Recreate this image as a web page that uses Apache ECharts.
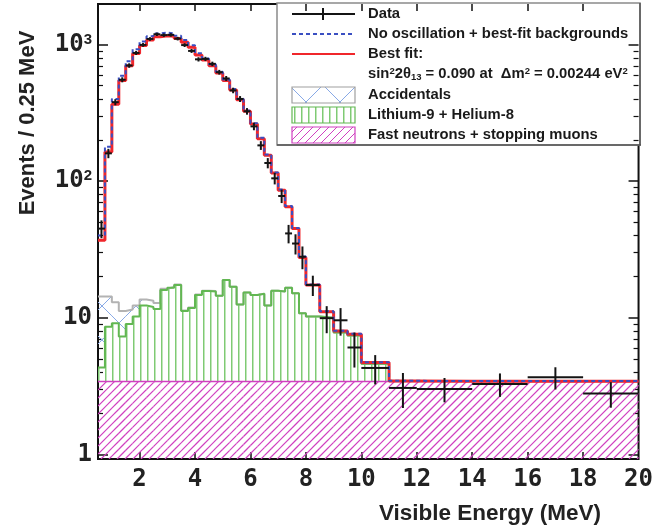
<!DOCTYPE html>
<html><head><meta charset="utf-8">
<script src="https://cdn.jsdelivr.net/npm/echarts@6/dist/echarts.min.js"></script>
<style>html,body{margin:0;padding:0;background:#fff}#c{width:656px;height:529px}</style>
</head><body><div id="c"></div>
<script>
// ---------- data ----------
const binEdges = [0.5,0.75,1.0,1.25,1.5,1.75,2.0,2.25,2.5,2.75,3.0,3.25,3.5,3.75,4.0,4.25,4.5,4.75,5.0,5.25,5.5,5.75,6.0,6.25,6.5,6.75,7.0,7.25,7.5,7.75,8.0,8.5,9.0,9.5,10,11,12,14,16,18,20];
const dataValues = [45,160,379,553,703,869,995,1100,1190,1173,1178,1106,992,899,780,786,723,628,565,462,400,325,252,183,136,105,78,41.5,35,28,17.4,9.95,9.6,6.07,4.3,3.07,3.02,3.28,3.67,2.79];
const dataErrors = [6.7,12.6,19.5,23.5,26.5,29.5,31.5,33,34.5,34.2,34.3,33.3,31.5,30,28,28,26.9,25,23.8,21.5,20,18,15.9,13.5,11.7,10.2,8.8,6.4,5.9,5.3,2.95,2.23,2.19,1.74,1.04,0.88,0.61,0.64,0.68,0.59];
const bestFit = [37,164,366,546,700,860,985,1080,1140,1160,1150,1110,1040,955,840,770,700,620,545,465,395,325,262,205,155,115,86,65,45,27.7,17.4,11.1,8.0,7.6,4.72,3.45,3.44,3.44,3.44,3.44];
const noOscillation = [40,179,399,592,756,925,1054,1150,1208,1224,1208,1160,1082,988,865,792,718,634,556,473,401,330,266,208,157,116,87,66,45.5,28.1,17.55,11.2,8.05,7.65,4.74,3.46,3.45,3.45,3.45,3.45];
const fastNeutrons = [3.42,3.42,3.42,3.42,3.42,3.42,3.42,3.42,3.42,3.42,3.42,3.42,3.42,3.42,3.42,3.42,3.42,3.42,3.42,3.42,3.42,3.42,3.42,3.42,3.42,3.42,3.42,3.42,3.42,3.42,3.42,3.42,3.42,3.42,3.42,3.42,3.42,3.42,3.42,3.42];
const lithiumHelium = [0.92,5.2,5.7,3.9,5.6,6.8,8.9,8.6,8.2,12.6,13.2,14.0,7.8,8.4,11.3,12.3,12.2,11.1,15.5,13.5,9.1,11.9,11.3,11.6,8.9,12.4,12.2,13.2,11.7,7.4,6.8,6.6,4.4,4.0,1.2,0,0,0,0,0];
const accidentals = [10.0,5.7,3.9,3.9,2.5,2.1,1.3,1.3,1.2,0.3,0.2,0.15,0.1,0.1,0.1,0.1,0.1,0,0,0,0,0,0,0,0,0,0,0,0,0,0,0,0,0,0,0,0,0,0,0];
const xTickLabels = [2,4,6,8,10,12,14,16,18,20];
const xTickMarks = [2,4,6,8,10,12,14,16,18];
const yMajorTicks = [1,10,100,1000];
const yMinorTicks = [2,3,4,5,6,7,8,9,20,30,40,50,60,70,80,90,200,300,400,500,600,700,800,900];

// ---------- helpers ----------
const N = dataValues.length;
const yMin = 0.927, yMax = 1982;
const PINK = '#d040c0', GREEN = '#62b752', ACCBLUE = '#88a9e6';
function makePattern(w, h, draw) {
  const c = document.createElement('canvas'); c.width = w; c.height = h;
  draw(c.getContext('2d'), w, h); return c;
}
const pinkHatch = makePattern(8, 8, (g, w, h) => {
  g.strokeStyle = PINK; g.lineWidth = 1; g.beginPath();
  g.moveTo(-1, h + 1); g.lineTo(w + 1, -1);
  g.moveTo(-1, 1); g.lineTo(1, -1);
  g.moveTo(w - 1, h + 1); g.lineTo(w + 1, h - 1);
  g.stroke();
});
const greenHatch = makePattern(7, 4, (g, w, h) => {
  g.fillStyle = '#7fca74'; g.fillRect(0, 0, 1, h);
  g.fillStyle = '#bfe6b8'; g.fillRect(1, 0, 1, h);
});
const accHatch = makePattern(34, 34, (g, w, h) => {
  g.strokeStyle = ACCBLUE; g.lineWidth = 1; g.beginPath();
  g.moveTo(0, 0); g.lineTo(w, h); g.moveTo(0, h); g.lineTo(w, 0); g.stroke();
});

const fnTop = fastNeutrons.slice();
const liTop = fastNeutrons.map((v, i) => v + lithiumHelium[i]);
const accTop = liTop.map((v, i) => v + accidentals[i]);

function binItems(lower, upper) {
  const items = [];
  for (let i = 0; i < N; i++) items.push([binEdges[i], binEdges[i + 1], lower === null ? yMin : lower[i], upper[i]]);
  return items;
}
function fillSeries(lower, upper, pattern, color, z) {
  return {
    type: 'custom', z: z, silent: true, clip: true, data: binItems(lower, upper),
    itemStyle: { color: color },
    encode: { x: [0, 1], y: [2, 3] },
    renderItem: (params, api) => {
      const x0 = api.value(0), x1 = api.value(1), y0 = api.value(2), y1 = api.value(3);
      if (!(y1 > y0)) return null;
      const p0 = api.coord([x0, y0]), p1 = api.coord([x1, y1]);
      return { type: 'rect', shape: { x: p0[0], y: p1[1], width: p1[0] - p0[0], height: p0[1] - p1[1] },
        style: { fill: { image: pattern, repeat: 'repeat' }, stroke: null } };
    }
  };
}
// diagonal "/" hatch drawn as explicit strokes inside each bin box
function diagHatchSeries(lower, upper, color, spacing, z) {
  return {
    type: 'custom', z: z, silent: true, clip: true, data: binItems(lower, upper),
    itemStyle: { color: color },
    encode: { x: [0, 1], y: [2, 3] },
    renderItem: (params, api) => {
      const x0 = api.value(0), x1 = api.value(1), y0 = api.value(2), y1 = api.value(3);
      if (!(y1 > y0)) return null;
      const p0 = api.coord([x0, y0]), p1 = api.coord([x1, y1]);
      const xa = p0[0], xb = p1[0], yt = p1[1], yb = p0[1];
      const cStart = Math.ceil((xa + yt) / spacing) * spacing;
      const kids = [];
      for (let c = cStart; c <= xb + yb; c += spacing) {
        const xs = Math.max(xa, c - yb), xe = Math.min(xb, c - yt);
        if (xe > xs) kids.push({ type: 'line', shape: { x1: xs, y1: c - xs, x2: xe, y2: c - xe },
          style: { stroke: color, lineWidth: 1.2, opacity: 1 } });
      }
      return { type: 'group', children: kids };
    }
  };
}
function stepPoints(vals, lastIndex, tail) {
  const pts = [];
  for (let i = 0; i <= lastIndex; i++) pts.push([binEdges[i], vals[i]]);
  pts.push([binEdges[lastIndex + 1], tail === undefined ? vals[lastIndex] : tail]);
  return pts;
}
function stepSeries(pts, color, width, z, dash) {
  return { type: 'line', step: 'end', data: pts, showSymbol: false, symbol: 'none', silent: true, z: z, clip: true,
    itemStyle: { color: color }, lineStyle: { color: color, width: width, type: dash ? dash : 'solid' } };
}
const crossItems = [];
for (let i = 0; i < N; i++) crossItems.push([(binEdges[i] + binEdges[i + 1]) / 2, dataValues[i], binEdges[i], binEdges[i + 1], dataErrors[i]]);

const tickFont = { fontFamily: 'DejaVu Sans Mono', fontWeight: 'bold', fontSize: 24, color: '#222' };
const axisCommonX = { type: 'value', min: 0.5, max: 20, splitLine: { show: false }, axisLine: { show: false } };
const axisCommonY = { type: 'log', logBase: 10, min: yMin, max: yMax, splitLine: { show: false }, axisLine: { show: false } };

const chart = echarts.init(document.getElementById('c'), null, { renderer: 'canvas' });
const legendFont = 'bold 14.8px "Liberation Sans", Arial, sans-serif';
const LX = 292, LW = 63, TX = 368;
chart.setOption({
  animation: false,
  grid: { left: 98, right: 15, top: 4, bottom: 70, show: true, borderColor: '#111', borderWidth: 2, backgroundColor: 'transparent' },
  xAxis: [
    Object.assign({}, axisCommonX, { position: 'bottom',
      axisTick: { show: true, inside: true, length: 7, customValues: xTickMarks, lineStyle: { color: '#111', width: 1.5 } },
      axisLabel: Object.assign({ customValues: xTickLabels, margin: 9 }, tickFont) }),
    Object.assign({}, axisCommonX, { position: 'top',
      axisTick: { show: true, inside: true, length: 7, customValues: xTickMarks, lineStyle: { color: '#111', width: 1.5 } },
      axisLabel: { show: false } })
  ],
  yAxis: [
    Object.assign({}, axisCommonY, { position: 'left',
      axisTick: { show: true, inside: true, length: 10, customValues: yMajorTicks, lineStyle: { color: '#111', width: 1.5 } },
      axisLabel: Object.assign({ customValues: yMajorTicks, margin: 6,
        formatter: v => { const e = Math.round(Math.log10(v)); return e === 0 ? '1' : (e === 1 ? '10' : '{b|10}{s|' + e + '}'); },
        rich: { b: Object.assign({}, tickFont), s: { fontFamily: 'Liberation Sans', fontWeight: 'bold', fontSize: 15, color: '#222', verticalAlign: 'top', padding: [0, 0, 10, 0] } } }, tickFont) }),
    Object.assign({}, axisCommonY, { position: 'left',
      axisTick: { show: true, inside: true, length: 5, customValues: yMinorTicks, lineStyle: { color: '#111', width: 1.2 } },
      axisLabel: { show: false } }),
    Object.assign({}, axisCommonY, { position: 'right',
      axisTick: { show: true, inside: true, length: 10, customValues: yMajorTicks, lineStyle: { color: '#111', width: 1.5 } },
      axisLabel: { show: false } }),
    Object.assign({}, axisCommonY, { position: 'right',
      axisTick: { show: true, inside: true, length: 5, customValues: yMinorTicks, lineStyle: { color: '#111', width: 1.2 } },
      axisLabel: { show: false } })
  ],
  series: [
    diagHatchSeries(null, fnTop, PINK, 8, 1),
    fillSeries(fnTop, liTop, greenHatch, GREEN, 1),
    fillSeries(liTop, accTop, accHatch, ACCBLUE, 1),
    stepSeries(stepPoints(fnTop, N - 1), PINK, 1.5, 3),
    stepSeries(stepPoints(accTop, 34, fastNeutrons[34]), '#b3b3b3', 2, 3),
    stepSeries(stepPoints(liTop, 34, fastNeutrons[34]), GREEN, 2, 4),
    stepSeries(stepPoints(bestFit, N - 1), '#f0262b', 3, 5),
    stepSeries(stepPoints(noOscillation, N - 1), '#3a4fc2', 2, 6, [4, 3]),
    {
      type: 'custom', z: 7, silent: true, clip: false, data: crossItems,
      itemStyle: { color: '#141414' },
      encode: { x: [2, 3], y: [1] },
      renderItem: (params, api) => {
        const c = api.value(0), v = api.value(1), x0 = api.value(2), x1 = api.value(3), e = api.value(4);
        const a = api.coord([x0, v]), b = api.coord([x1, v]);
        const t = api.coord([c, v + e]), d = api.coord([c, v - e]);
        const st = { stroke: '#141414', lineWidth: 2 };
        return { type: 'group', children: [
          { type: 'line', shape: { x1: a[0], y1: a[1], x2: b[0], y2: b[1] }, style: st },
          { type: 'line', shape: { x1: t[0], y1: t[1], x2: d[0], y2: d[1] }, style: st }
        ] };
      }
    }
  ],
  graphic: [
    { type: 'text', x: 28, y: 123, rotation: Math.PI / 2, style: { text: 'Events / 0.25 MeV', font: 'bold 22px "Liberation Sans", Arial, sans-serif', fill: '#222', align: 'center', verticalAlign: 'middle' } },
    { type: 'text', x: 490, y: 514, style: { text: 'Visible Energy (MeV)', font: 'bold 22.5px "Liberation Sans", Arial, sans-serif', fill: '#222', align: 'center', verticalAlign: 'middle' } },
    { type: 'group', z: 100, children: [
      { type: 'rect', shape: { x: 277, y: 3, width: 363, height: 142 }, style: { fill: '#fff', stroke: '#8a8a8a', lineWidth: 1.5 } },
      { type: 'line', shape: { x1: 277, y1: 145, x2: 641, y2: 145 }, style: { stroke: '#555', lineWidth: 1.5 } },
      { type: 'line', shape: { x1: 640, y1: 3, x2: 640, y2: 145 }, style: { stroke: '#555', lineWidth: 1.5 } },
      { type: 'line', shape: { x1: LX, y1: 14, x2: LX + LW, y2: 14 }, style: { stroke: '#141414', lineWidth: 2 } },
      { type: 'line', shape: { x1: 323, y1: 8, x2: 323, y2: 20 }, style: { stroke: '#141414', lineWidth: 2 } },
      { type: 'line', shape: { x1: LX, y1: 34, x2: LX + LW, y2: 34 }, style: { stroke: '#3a4fc2', lineWidth: 2, lineDash: [4, 3] } },
      { type: 'line', shape: { x1: LX, y1: 54, x2: LX + LW, y2: 54 }, style: { stroke: '#f0262b', lineWidth: 2 } },
      { type: 'rect', shape: { x: LX, y: 87, width: LW, height: 16 }, style: { fill: { image: accHatch, repeat: 'repeat' }, stroke: '#a0a0a0', lineWidth: 1.2 } },
      { type: 'rect', shape: { x: LX, y: 107, width: LW, height: 16 }, style: { fill: { image: greenHatch, repeat: 'repeat' }, stroke: GREEN, lineWidth: 1.2 } },
      { type: 'rect', shape: { x: LX, y: 127, width: LW, height: 16 }, style: { fill: { image: pinkHatch, repeat: 'repeat' }, stroke: PINK, lineWidth: 1.2 } },
      { type: 'text', x: TX, y: 14, style: { text: 'Data', font: legendFont, fill: '#1a1a1a', verticalAlign: 'middle' } },
      { type: 'text', x: TX, y: 34, style: { text: 'No oscillation + best-fit backgrounds', font: legendFont, fill: '#1a1a1a', verticalAlign: 'middle' } },
      { type: 'text', x: TX, y: 54, style: { text: 'Best fit:', font: legendFont, fill: '#1a1a1a', verticalAlign: 'middle' } },
      { type: 'text', x: TX, y: 74, style: {
        text: '{t|sin}{p|2}{t|2θ}{q|13}{t| = 0.090 at  Δm}{p|2}{t| = 0.00244 eV}{p|2}', verticalAlign: 'middle',
        rich: {
          t: { fontFamily: 'Liberation Sans', fontWeight: 'bold', fontSize: 14.8, fill: '#1a1a1a', lineHeight: 20 },
          p: { fontFamily: 'Liberation Sans', fontWeight: 'bold', fontSize: 9.5, fill: '#1a1a1a', lineHeight: 20, verticalAlign: 'top', padding: [2, 0, 0, 0] },
          q: { fontFamily: 'Liberation Sans', fontWeight: 'bold', fontSize: 9.5, fill: '#1a1a1a', lineHeight: 20, verticalAlign: 'bottom', padding: [0, 0, 2, 0] }
        } } },
      { type: 'text', x: TX, y: 95, style: { text: 'Accidentals', font: legendFont, fill: '#1a1a1a', verticalAlign: 'middle' } },
      { type: 'text', x: TX, y: 115, style: { text: 'Lithium-9 + Helium-8', font: legendFont, fill: '#1a1a1a', verticalAlign: 'middle' } },
      { type: 'text', x: TX, y: 135, style: { text: 'Fast neutrons + stopping muons', font: legendFont, fill: '#1a1a1a', verticalAlign: 'middle' } }
    ] }
  ]
});
</script></body></html>
